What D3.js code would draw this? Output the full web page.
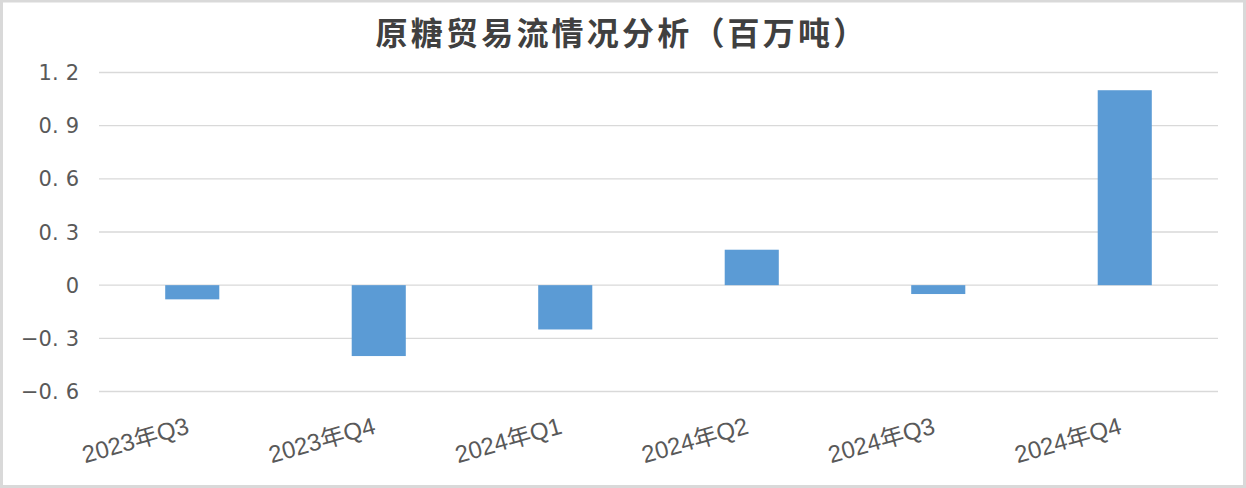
<!DOCTYPE html>
<html>
<head>
<meta charset="utf-8">
<script src="https://cdn.jsdelivr.net/npm/d3@7"></script>
<style>
  html, body { margin: 0; padding: 0; background: #fff; }
  svg { display: block; }
</style>
</head>
<body>
<svg id="chart" width="1246" height="488"></svg>
<script>
const title = "原糖贸易流情况分析（百万吨）";
const categories = ["2023年Q3", "2023年Q4", "2024年Q1", "2024年Q2", "2024年Q3", "2024年Q4"];
const values = [-0.08, -0.40, -0.25, 0.20, -0.05, 1.10];
const yTicks = [-0.6, -0.3, 0, 0.3, 0.6, 0.9, 1.2];

const W = 1246, H = 488;
const svg = d3.select("#chart");

// outer frame
svg.append("rect")
  .attr("x", 1.5).attr("y", 1).attr("width", W - 3).attr("height", H - 2.5)
  .attr("fill", "#fff").attr("stroke", "#d9d9d9").attr("stroke-width", 3);

const plot = { left: 99, right: 1218, top: 72.5, bottom: 391.5 };

const x = d3.scaleBand().domain(categories)
  .range([plot.left, plot.right]).paddingInner(0.71).paddingOuter(0.355);
const y = d3.scaleLinear().domain([-0.6, 1.2]).range([plot.bottom, plot.top]);

// gridlines
svg.append("g").selectAll("line").data(yTicks).join("line")
  .attr("x1", plot.left).attr("x2", plot.right)
  .attr("y1", d => y(d)).attr("y2", d => y(d))
  .attr("stroke", "#d9d9d9").attr("stroke-width", 1.3);

// y tick labels: integer part + "." then a gap before decimal digit
const yl = svg.append("g").selectAll("text").data(yTicks).join("text")
  .attr("x", 79).attr("y", d => y(d))
  .attr("dy", "0.36em")
  .attr("text-anchor", "end")
  .attr("font-family", "'DejaVu Sans', sans-serif")
  .attr("font-size", 21)
  .attr("fill", "#595959");
yl.each(function(d) {
  const t = d3.select(this);
  if (d === 0) { t.text("0"); return; }
  const s = Math.abs(d).toFixed(1).split(".");
  t.append("tspan").text((d < 0 ? "\u2212" : "") + s[0] + ".");
  t.append("tspan").attr("dx", 7).text(s[1]);
});

// bars
svg.append("g").selectAll("rect").data(values).join("rect")
  .attr("x", (d, i) => x(categories[i]))
  .attr("width", x.bandwidth())
  .attr("y", d => y(Math.max(0, d)))
  .attr("height", d => Math.abs(y(d) - y(0)))
  .attr("fill", "#5b9bd5");

// x labels
svg.append("g").selectAll("text").data(categories).join("text")
  .attr("transform", d => `translate(${x(d) + x.bandwidth() / 2 - 2},433) rotate(-16)`)
  .attr("text-anchor", "end")
  .attr("font-family", "'Liberation Sans', 'Noto Sans CJK SC', sans-serif")
  .attr("font-size", 24)
  .attr("fill", "#595959")
  .text(d => d);

// title
svg.append("text")
  .attr("x", 622).attr("y", 45)
  .attr("text-anchor", "middle")
  .attr("font-family", "'Noto Sans CJK SC', sans-serif")
  .attr("font-size", 32)
  .attr("font-weight", "bold")
  .attr("letter-spacing", 3.2)
  .attr("fill", "#404040")
  .text(title);
</script>
</body>
</html>
